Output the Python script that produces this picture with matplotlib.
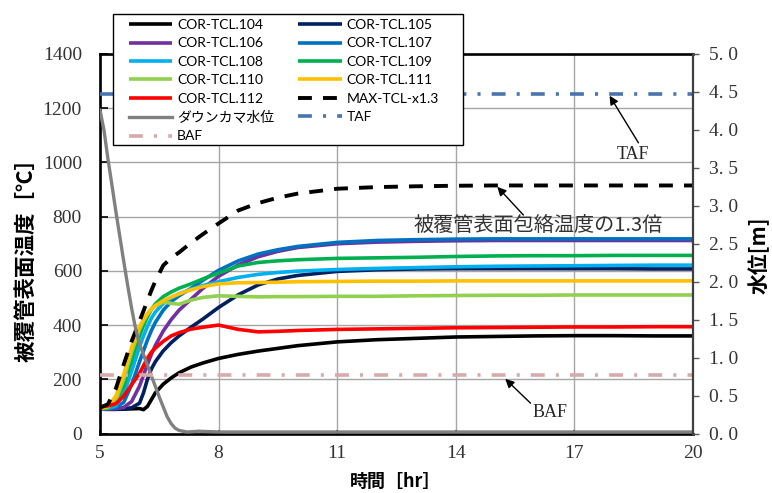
import matplotlib
matplotlib.use("Agg")
import matplotlib.pyplot as plt
from matplotlib.patches import Rectangle
from matplotlib.font_manager import FontProperties

plt.rcParams['lines.scale_dashes'] = False

# ---------------- data ----------------
time_hr = [5.0, 5.2, 5.4, 5.6, 5.8, 6.0, 6.1, 6.2, 6.3, 6.4, 6.6, 6.8, 7.0, 7.3, 7.6,
           8.0, 8.5, 9.0, 9.5, 10.0, 11.0, 12.0, 13.0, 14.0, 15.0, 16.0, 17.0, 18.0, 19.0, 20.0]

tcl104 = [90, 89, 89, 90, 91, 92, 88, 100, 125, 150, 182, 205, 224, 245, 260,
          277, 292, 304, 314, 324, 338, 346, 351, 356, 358, 360, 361, 361, 360, 360]
tcl105 = [90, 90, 90, 91, 95, 112, 150, 200, 238, 265, 305, 335, 360, 392, 422,
          465, 512, 548, 570, 583, 598, 604, 607, 608, 608, 608, 608, 608, 607, 607]
tcl106 = [90, 90, 91, 96, 118, 175, 215, 255, 292, 325, 378, 420, 455, 495, 535,
          580, 622, 652, 672, 686, 700, 706, 709, 711, 712, 712, 712, 712, 712, 712]
tcl107 = [92, 92, 96, 115, 180, 265, 305, 345, 380, 410, 455, 487, 508, 535, 565,
          602, 637, 662, 678, 690, 705, 712, 715, 717, 718, 718, 718, 718, 718, 718]
tcl108 = [92, 93, 102, 145, 230, 320, 360, 395, 425, 448, 480, 500, 515, 532, 546,
          560, 576, 587, 594, 599, 605, 609, 612, 615, 617, 618, 619, 620, 621, 621]
tcl109 = [92, 95, 112, 175, 270, 360, 398, 430, 458, 478, 505, 522, 536, 552, 570,
          592, 618, 631, 637, 641, 646, 648, 650, 653, 655, 656, 656, 657, 657, 657]
tcl110 = [92, 97, 122, 200, 300, 385, 415, 440, 458, 470, 485, 480, 477, 492, 502,
          508, 506, 504, 505, 505, 506, 506, 508, 509, 510, 510, 511, 511, 511, 511]
tcl111 = [92, 100, 138, 218, 318, 395, 420, 442, 460, 472, 490, 503, 515, 530, 542,
          552, 556, 557, 558, 560, 561, 562, 562, 563, 563, 563, 563, 563, 563, 563]
tcl112 = [98, 102, 110, 138, 180, 222, 250, 278, 300, 315, 340, 360, 372, 385, 392,
          400, 384, 375, 377, 380, 384, 386, 388, 390, 391, 392, 393, 393, 394, 394]
max_tcl_x13 = [95, 108, 165, 255, 340, 415, 452, 490, 528, 562, 620, 648, 668, 703, 735,
               775, 823, 850, 870, 885, 903, 909, 912, 914, 915, 915, 915, 915, 915, 915]

wl_time = [5.0, 5.1, 5.2, 5.3, 5.4, 5.5, 5.6, 5.7, 5.8, 5.9, 6.0, 6.1, 6.2, 6.3, 6.4,
           6.5, 6.6, 6.7, 6.8, 6.9, 7.0, 7.2, 7.5, 8.0, 9.0, 10.0, 12.0, 14.0, 16.0, 18.0, 20.0]
downcomer_level = [4.26, 4.00, 3.62, 3.28, 2.93, 2.60, 2.27, 1.95, 1.65, 1.38, 1.18, 1.04,
                   0.90, 0.76, 0.62, 0.48, 0.35, 0.22, 0.13, 0.07, 0.04, 0.02, 0.03, 0.02,
                   0.02, 0.02, 0.02, 0.02, 0.02, 0.02, 0.02]

ref_time = [5.0, 20.0]
taf_level = [4.47, 4.47]
baf_level = [0.77, 0.77]

series_names = ["COR-TCL.104", "COR-TCL.105", "COR-TCL.106", "COR-TCL.107", "COR-TCL.108",
                "COR-TCL.109", "COR-TCL.110", "COR-TCL.111", "COR-TCL.112"]
series_colors = ["#000000", "#002060", "#7030A0", "#0070C0", "#00B0F0",
                 "#00B050", "#92D050", "#FFC000", "#FF0000"]

x_ticks = [5, 8, 11, 14, 17, 20]
temp_ticks = [0, 200, 400, 600, 800, 1000, 1200, 1400]
level_ticks = [0.0, 0.5, 1.0, 1.5, 2.0, 2.5, 3.0, 3.5, 4.0, 4.5, 5.0]
level_tick_labels = ["0. 0", "0. 5", "1. 0", "1. 5", "2. 0", "2. 5", "3. 0", "3. 5", "4. 0", "4. 5", "5. 0"]

# ---------------- figure ----------------
W, H = 772, 493
fig = plt.figure(figsize=(W / 100, H / 100), dpi=100)
ax = fig.add_axes([100 / W, 1 - 433.5 / H, 593 / W, 379.5 / H])
ax2 = ax.twinx()

serif = "Liberation Serif"
cjk = "Noto Sans CJK JP"

all_series = [tcl104, tcl105, tcl106, tcl107, tcl108, tcl109, tcl110, tcl111, tcl112]
handles = {}
for name, col, vals in zip(series_names, series_colors, all_series):
    ln, = ax.plot(time_hr, vals, color=col, lw=2.6, solid_capstyle='butt', label=name)
    handles[name] = ln
ln_max, = ax.plot(time_hr, max_tcl_x13, color="black", lw=2.8, dashes=(10, 8), label="MAX-TCL-x1.3")

ln_wl, = ax2.plot(wl_time, downcomer_level, color="#808080", lw=2.4, label="ダウンカマ水位")
ln_taf, = ax2.plot(ref_time, taf_level, color="#4A74AE", lw=2.6, dashes=(10, 8, 2.2, 8), label="TAF")
ln_baf, = ax2.plot(ref_time, baf_level, color="#D8AAAA", lw=2.6, dashes=(10, 8, 2.2, 8), label="BAF")

# axes limits & ticks
ax.set_xlim(5, 20)
ax.set_ylim(0, 1400)
ax2.set_ylim(0, 5)
ax.set_xticks(x_ticks)
ax.set_yticks(temp_ticks)
ax2.set_yticks(level_ticks)
ax2.set_yticklabels(level_tick_labels)

ax.grid(True, color="#A6A6A6", lw=1.0)
ax.set_axisbelow(True)

for lab in ax.get_xticklabels() + ax.get_yticklabels() + ax2.get_yticklabels():
    lab.set_fontfamily(serif)
    lab.set_fontsize(14)
    lab.set_color("#333333")

ax.tick_params(axis='y', direction='in', length=6, width=1.2, pad=13, right=False, color="black")
ax.tick_params(axis='x', direction='in', length=3, width=1.2, pad=8, top=False, color="black")
ax2.tick_params(axis='y', direction='out', length=4.5, width=1.0, pad=7, color="#595959")

for s in ['left', 'bottom', 'top']:
    ax.spines[s].set_linewidth(1.9)
    ax.spines[s].set_color("black")
ax.spines['right'].set_visible(False)
for s in ['left', 'bottom', 'top']:
    ax2.spines[s].set_visible(False)
ax2.spines['right'].set_linewidth(1.6)
ax2.spines['right'].set_color("#404040")

# axis labels
fig.text(26 / W, 1 - 255 / H, "被覆管表面温度［℃］", rotation=90, ha='center', va='center',
         family=cjk, fontsize=15.5, fontweight='bold')
fig.text(396 / W, 1 - 481 / H, "時間［hr］", ha='center', va='center',
         family=cjk, fontsize=13, fontweight='bold')
fig.text(759 / W, 1 - 255 / H, "水位[m]", rotation=90, ha='center', va='center',
         family=cjk, fontsize=15, fontweight='bold')

# annotations
arrow = dict(arrowstyle='-|>', color='black', lw=1.0, mutation_scale=13, shrinkA=0, shrinkB=0)
ax2.annotate("", xy=(17.89, 4.45), xytext=(18.62, 3.83), arrowprops=arrow)
ax2.text(18.49, 3.67, "TAF", ha='center', va='center', family=serif, fontsize=13, color="#262626")
ax.annotate("", xy=(15.05, 910), xytext=(15.71, 806), arrowprops=arrow)
ax.text(16.09, 769, "被覆管表面包絡温度の1.3倍", ha='center', va='center', family=cjk,
        fontsize=14.5, color="#333333")
ax2.annotate("", xy=(15.25, 0.72), xytext=(15.89, 0.40), arrowprops=arrow)
ax2.text(16.39, 0.28, "BAF", ha='center', va='center', family=serif, fontsize=13, color="#262626")

# legend (box drawn separately)
box = Rectangle((113 / W, 1 - 145 / H), 350 / W, 131 / H, transform=fig.transFigure,
                facecolor='white', edgecolor='black', lw=1.0, zorder=4)
fig.add_artist(box)
order = [handles["COR-TCL.104"], handles["COR-TCL.106"], handles["COR-TCL.108"],
         handles["COR-TCL.110"], handles["COR-TCL.112"], ln_wl, ln_baf,
         handles["COR-TCL.105"], handles["COR-TCL.107"], handles["COR-TCL.109"],
         handles["COR-TCL.111"], ln_max, ln_taf]
leg = fig.legend(order, [h.get_label() for h in order], ncol=2, loc='upper left',
                 bbox_to_anchor=(129 / W, 1 - 19 / H), frameon=False, borderpad=0.0,
                 borderaxespad=0, handlelength=3.1, handletextpad=0.36, columnspacing=1.75,
                 labelspacing=0.46, prop=FontProperties(family=["Lato", cjk], size=10))
leg.set_zorder(5)

fig.savefig("out.png", dpi=100)
